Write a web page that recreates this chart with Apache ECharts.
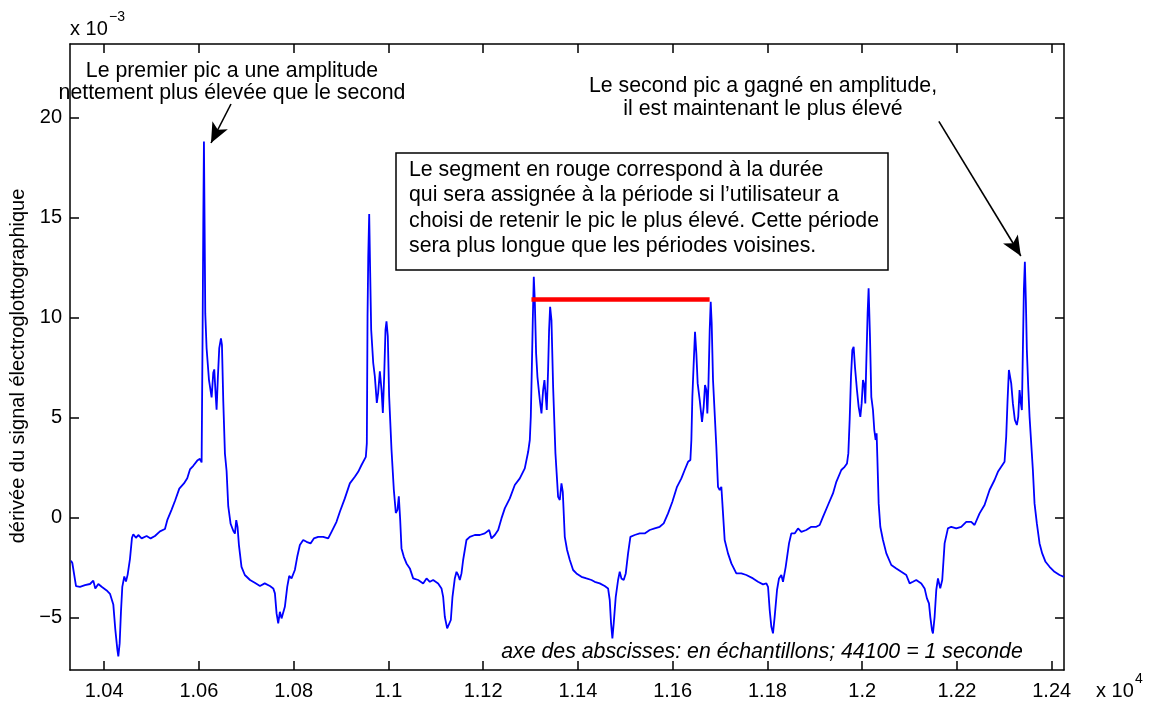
<!DOCTYPE html>
<html><head><meta charset="utf-8">
<script src="https://cdn.jsdelivr.net/npm/echarts@6/dist/echarts.min.js"></script>
<style>html,body{margin:0;padding:0;background:#fff}#c{width:1153px;height:705px}</style>
</head><body><div id="c"></div>
<script>
// sample index (x) and derivative value in units of 1e-3 (y)
const samples = [
10330.1,10332.9,10340.7,10349.1,10359.6,10370.2,10377.2,10381.4,10387.8,10394.8,10405.4,10412.4,10416.6,10419.4,10423.6,10427.9,10430,10432.8,10435.6,10438.4,10442.6,10446.1,10449.7,10454.6,10458.8,10461.6,10467.2,10472.2,10479.2,10489.7,10498.2,10507.3,10517.9,10528.4,10533.3,10542.5,10549.5,10558.7,10568.5,10575.5,10581.2,10588.2,10596.6,10602.3,10605.8,10607.9,10609.3,10610.7,10612.1,10613.5,10616.3,10621.3,10626.9,10630.4,10632.5,10635.3,10637.4,10640.2,10643,10646.6,10648.7,10651.5,10655,10658.5,10662,10667,10672.6,10676.1,10678.9,10681.7,10684.5,
10690,10697,10708,10718,10729,10739,10750,10757,10760.5,10764,10767.5,10771,10774.5,10778,10781.5,10786.5,10790.7,10795.6,10802.6,10807.6,10813.2,10820.2,10827.2,10835.7,10842.7,10851.9,10862.4,10873,10880,10890.5,10897.6,10908.1,10918.7,10929.2,10936.3,10943.3,10952.4,10954.5,10955.2,10956,10957.5,10959.5,10961.6,10963.7,10968,10971.4,10975.6,10978.4,10982,10985.5,10988.3,10991.1,10993.9,10996,10998.8,11001.6,11006.6,11011.5,11015.7,11019.2,11022,11024.9,11027.7,11032.6,11038.2,
11045.3,11052.3,11062.9,11073.4,11080.5,11087.5,11094.5,11105,11112.1,11115.6,11119.1,11124.1,11128.3,11131.8,11135.3,11140.2,11143.8,11147.3,11150.8,11154.3,11157.8,11164.8,11171.9,11182.4,11193,11203.5,11212.7,11217.6,11224.6,11231.7,11238.7,11245.7,11256.3,11266.8,11277.4,11287.9,11295,11298.5,11300.6,11302.7,11304.8,11306.9,11309,11311.8,11314.6,11319.6,11323.1,11326.6,11329.4,11332.2,11334.3,11337.1,11339.2,11341.4,11344.2,11347.7,11352.6,11358.2,11361.8,11365.3,11368.1,11372.3,11377.2,11382.9,11389.9,11396.9,11407.5,11418,
11428.6,11435.5,11446.1,11456.6,11463.7,11467.2,11470,11472.8,11475.6,11479.9,11484.8,11488.3,11491.8,11496.7,11501,11505.9,11510.8,11519.9,11530.5,11541,11551.6,11562.1,11572.7,11581.1,11590.3,11599.4,11609.2,11618.4,11625.4,11632.5,11637.4,11639.5,11641.6,11644.4,11647.2,11650,11652.8,11657.1,11662,11665.5,11668.3,11671.1,11673.2,11675.4,11678.2,11680.3,11682.4,11685.2,11688.7,11692.2,11695.7,11699.3,11702.8,11706.3,11709.8,11716.8,11723.9,11734.4,11745,11755.5,11769.6,11780.1,11790.7,
11797.8,11801.3,11804.8,11808.3,11811.8,11815.3,11820.3,11824.5,11829.4,11832.9,11838.6,11845.6,11850.5,11857.5,11864.6,11871.6,11882.1,11892.7,11903.2,11910.3,11917.3,11927.9,11938.4,11945.5,11956,11963,11968,11970.8,11973.6,11976.4,11979.2,11982,11984.8,11989,11992.6,11996.1,11998.9,12001.7,12004.5,12006.6,12008.7,12011.5,12013.6,12016.5,12019.3,12022.8,12025.6,12028.4,12030.5,12032,12034.8,12038.3,12043.9,12051,12061.5,12072,12082.6,12093.1,12100.2,12107.2,12114.2,12124.8,12131.8,12136.7,12141,12143.8,12147.3,12149.4,12152.9,12156.4,12160,
12164.8,12169,12174,12181,12188,12198.6,12209.1,12219.7,12230.2,12237.2,12247.8,12258.3,12268.9,12279.4,12286.5,12293.5,12300.5,12304,12306.9,12309.7,12311.8,12314.6,12318.1,12322.3,12326.5,12329.4,12332.2,12335,12337.1,12339.2,12341.3,12343.4,12345.5,12347.6,12350.5,12353.3,12356.8,12360.3,12363.8,12368.7,12374.4,12380,12387,12395.5,12406,12416.6,12426
];
const derivative = [
-2.16,-2.28,-3.44,-3.47,-3.39,-3.33,-3.16,-3.56,-3.33,-3.47,-3.65,-3.82,-3.79,-4.35,-5.6,-6.6,-6.95,-6.3,-4.7,-3.47,-2.95,-3.21,-2.86,-2.07,-1.02,-0.84,-1.02,-0.88,-1.05,-0.93,-1.05,-0.93,-0.7,-0.58,-0.14,0.39,0.82,1.44,1.7,1.96,2.4,2.58,2.84,2.93,2.75,9.33,14.6,18.8,14.6,10.2,8.46,6.88,6.0,7.23,7.4,6.18,5.39,7.05,8.46,8.95,8.63,5.82,3.19,2.32,0.56,-0.32,-0.67,-0.81,-0.14,-0.49,-1.37,
-2.47,-2.88,-3.13,-3.27,-3.43,-3.3,-3.43,-3.55,-3.8,-4.8,-5.3,-4.72,-5.05,-4.97,-4.47,-3.47,-2.93,-3.05,-2.63,-1.97,-1.38,-1.13,-1.22,-1.3,-1.05,-0.97,-0.97,-1.05,-0.72,-0.22,0.28,0.95,1.7,2.03,2.28,2.62,3.03,3.7,6.53,10.03,13.03,15.17,12.22,9.38,7.72,7.05,5.72,6.22,7.3,6.38,5.22,7.05,9.38,9.8,9.05,6.05,3.38,1.38,0.22,0.38,1.05,-0.12,-1.55,-1.97,-2.3,
-2.55,-3.05,-3.13,-3.3,-3.05,-3.22,-3.13,-3.3,-3.55,-3.97,-4.97,-5.55,-5.63,-5.13,-3.97,-3.05,-2.72,-2.88,-3.13,-2.8,-2.13,-1.13,-0.97,-0.88,-0.88,-0.8,-0.63,-1.05,-0.88,-0.63,-0.05,0.45,0.95,1.62,1.95,2.45,3.28,3.87,5.03,7.37,9.87,12.03,10.87,8.2,7.03,5.87,5.2,6.37,6.87,6.03,5.37,7.37,9.37,10.53,9.87,6.53,3.2,1.03,0.87,1.7,1.28,-0.97,-1.63,-2.13,-2.63,-2.8,-2.97,-3.05,
-3.13,-3.22,-3.3,-3.43,-3.55,-4.13,-5.3,-6.05,-5.3,-3.97,-3.13,-2.72,-3.05,-3.13,-2.8,-1.8,-0.97,-0.88,-0.8,-0.8,-0.63,-0.55,-0.47,-0.3,0.2,0.78,1.53,1.95,2.37,2.78,2.87,3.87,6.03,7.7,9.28,8.2,6.7,5.87,4.78,5.53,6.62,6.37,5.2,6.53,9.37,10.78,9.7,6.87,5.2,3.53,1.53,1.37,1.53,0.2,-1.13,-1.8,-2.3,-2.8,-2.8,-2.88,-3.05,-3.22,-3.35,
-3.3,-3.47,-4.63,-5.47,-5.8,-4.97,-3.63,-3.05,-2.88,-3.22,-2.47,-1.3,-0.8,-0.8,-0.55,-0.72,-0.63,-0.47,-0.47,-0.38,0.03,0.62,1.2,1.78,2.37,2.53,2.7,3.2,4.87,7.03,8.37,8.53,7.53,6.37,5.53,5.03,5.7,6.87,6.62,5.7,7.7,10.2,11.45,9.03,6.03,5.37,4.37,3.87,4.2,3.03,0.7,-0.47,-1.13,-1.8,-2.38,-2.55,-2.72,-2.88,-3.3,-3.22,-3.13,-3.3,-3.55,-4.05,-4.3,-4.97,-5.63,-5.8,-4.97,-3.63,-3.05,
-3.55,-3.13,-1.3,-0.55,-0.47,-0.55,-0.47,-0.22,-0.22,-0.38,0.2,0.62,1.37,1.87,2.28,2.53,2.78,4.03,5.87,7.37,7.45,6.7,5.7,4.87,4.62,5.03,6.37,5.7,5.37,8.37,11.37,12.78,10.87,8.37,6.53,5.03,3.7,2.37,0.7,-0.3,-1.3,-1.8,-2.22,-2.47,-2.72,-2.88,-2.97
];
// red segment: chosen period (highest peak to highest peak)
const redSegX = [11302, 11678];
const redSegY = [10.9, 10.9];
// annotation arrows: [tailX, tailY, tipX, tipY]
const arrow1 = [10667.8, 20.67, 10625.6, 18.72];
const arrow2 = [12161.9, 19.8, 12334.9, 13.07];
const xTicks = [10400,10600,10800,11000,11200,11400,11600,11800,12000,12200,12400];
const yTicks = [-5,0,5,10,15,20];
const xRange = [10328, 12426];
const yRange = [-7.63, 23.67];

const FONT = '"Liberation Sans", Helvetica, Arial, sans-serif';
const ANN = 21.3;
const chart = echarts.init(document.getElementById('c'), null, {renderer:'canvas'});
const lineData = samples.map((s,i)=>[s, derivative[i]]);
const redData = redSegX.map((s,i)=>[s, redSegY[i]]);
const axisLineStyle = {color:'#000', width:1.5};
function xAx(pos, labels){
  return {type:'value', position:pos, min:xRange[0], max:xRange[1],
    axisLine:{show:true, onZero:false, lineStyle:axisLineStyle},
    axisTick:{show:true, inside:true, length:9, customValues:xTicks, lineStyle:axisLineStyle},
    axisLabel:{show:labels, customValues:xTicks, color:'#000', fontSize:20, fontFamily:FONT, margin:11,
      formatter:v=>String(v/10000)},
    splitLine:{show:false}};
}
function yAx(pos, labels){
  return {type:'value', position:pos, min:yRange[0], max:yRange[1],
    axisLine:{show:true, onZero:false, lineStyle:axisLineStyle},
    axisTick:{show:true, inside:true, length:9, customValues:yTicks, lineStyle:axisLineStyle},
    axisLabel:{show:labels, customValues:yTicks, color:'#000', fontSize:20, fontFamily:FONT, margin:8,
      formatter:v=> v<0 ? '\u2212'+Math.abs(v) : String(v)},
    splitLine:{show:false}};
}
const txt = (o)=>Object.assign({fill:'#000', fontSize:ANN, fontFamily:FONT}, o);
chart.setOption({
  animation:false,
  backgroundColor:'#fff',
  grid:{left:70, right:89, top:44, bottom:35, containLabel:false},
  xAxis:[xAx('bottom', true), xAx('top', false)],
  yAxis:[yAx('left', true), yAx('right', false)],
  series:[
    {type:'line', data:lineData, showSymbol:false, symbol:'none', lineStyle:{color:'#0000ff', width:1.8}, z:3,
     markLine:{silent:true, symbol:['none','arrow'], symbolSize:[13,20], label:{show:false},
       lineStyle:{color:'#000', width:1.6, type:'solid'},
       data:[
         [{coord:[arrow1[0],arrow1[1]]},{coord:[arrow1[2],arrow1[3]]}],
         [{coord:[arrow2[0],arrow2[1]]},{coord:[arrow2[2],arrow2[3]]}]
       ]}},
    {type:'line', data:redData, showSymbol:false, symbol:'none', lineStyle:{color:'#ff0000', width:4.5}, z:4}
  ],
  graphic:[
    {type:'text', x:70, y:29, style:txt({text:'x 10', fontSize:20, textVerticalAlign:'middle'})},
    {type:'text', x:109, y:17, style:txt({text:'\u22123', fontSize:14, textVerticalAlign:'middle'})},
    {type:'text', x:1096, y:691, style:txt({text:'x 10', fontSize:20, textVerticalAlign:'middle'})},
    {type:'text', x:1135, y:679, style:txt({text:'4', fontSize:14, textVerticalAlign:'middle'})},
    {type:'text', x:18, y:366, rotation:Math.PI/2, style:txt({text:'d\u00e9riv\u00e9e du signal \u00e9lectroglottographique', fontSize:20, textAlign:'center', textVerticalAlign:'middle'})},
    {type:'text', x:232, y:60, z:10, style:txt({text:'Le premier pic a une amplitude\nnettement plus \u00e9lev\u00e9e que le second', textAlign:'center', textVerticalAlign:'top', lineHeight:22})},
    {type:'text', x:763, y:75, z:10, style:txt({text:'Le second pic a gagn\u00e9 en amplitude,\nil est maintenant le plus \u00e9lev\u00e9', textAlign:'center', textVerticalAlign:'top', lineHeight:23})},
    {type:'rect', z:9, shape:{x:396, y:153, width:492, height:117}, style:{fill:'#fff', stroke:'#000', lineWidth:1.5}},
    {type:'text', x:409, y:157, z:10, style:txt({text:'Le segment en rouge correspond \u00e0 la dur\u00e9e\nqui sera assign\u00e9e \u00e0 la p\u00e9riode si l\u2019utilisateur a\nchoisi de retenir le pic le plus \u00e9lev\u00e9. Cette p\u00e9riode\nsera plus longue que les p\u00e9riodes voisines.', textAlign:'left', textVerticalAlign:'top', lineHeight:25.5})},
    {type:'text', x:762, y:652, z:10, style:txt({text:'axe des abscisses: en \u00e9chantillons; 44100 = 1 seconde', fontStyle:'italic', textAlign:'center', textVerticalAlign:'middle'})}
  ]
});
</script></body></html>
